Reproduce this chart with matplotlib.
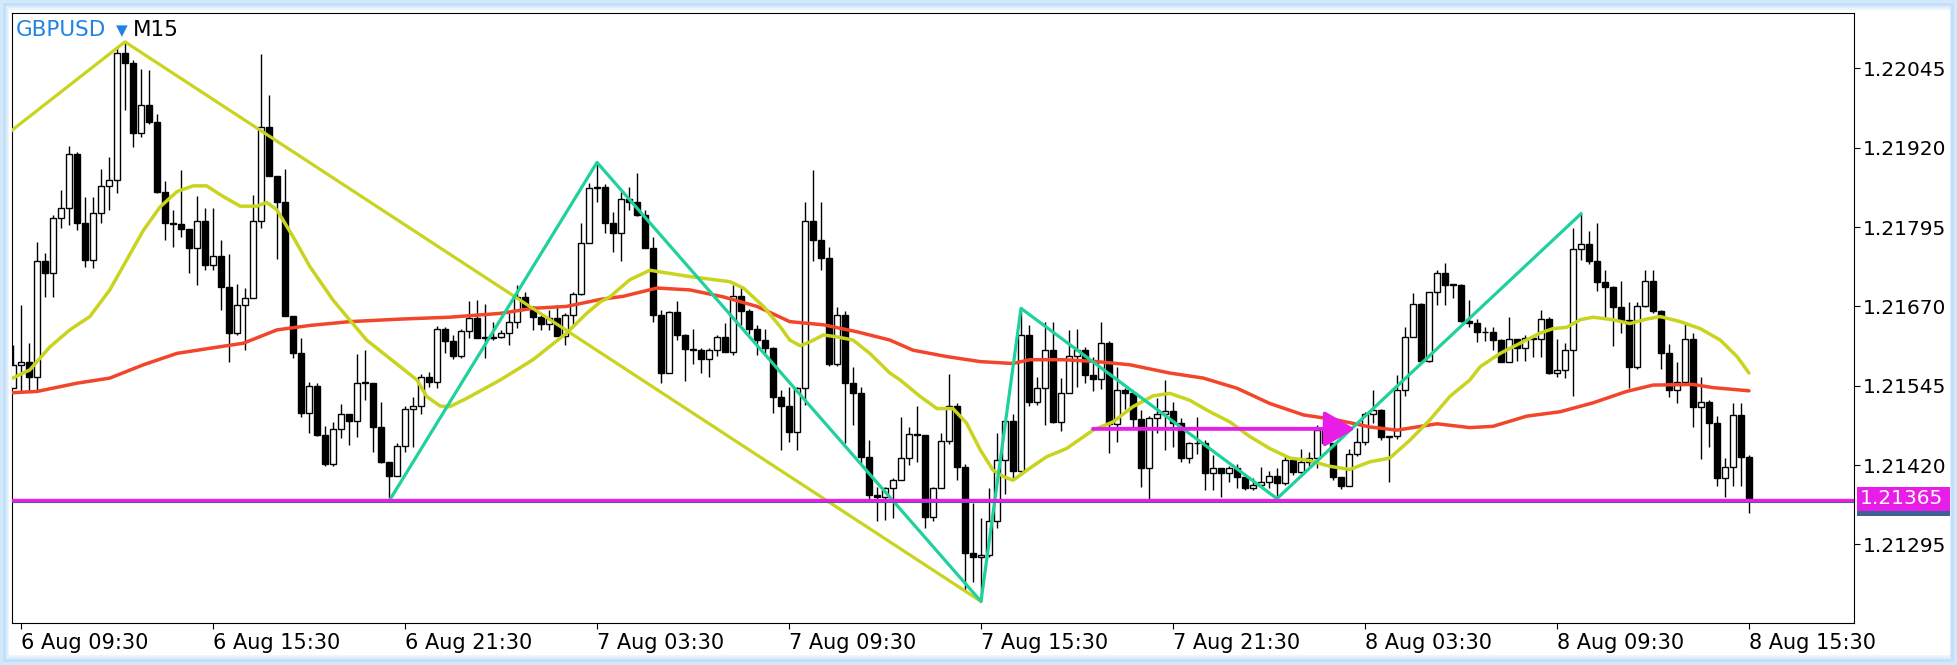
import numpy as np
import pandas as pd
import matplotlib
matplotlib.use("Agg")
import matplotlib.pyplot as plt
from matplotlib.patches import Rectangle
from matplotlib.patches import ArrowStyle

# ---------------- data ----------------
symbol = "GBPUSD"
timeframe = "M15"
start_time = "2020-08-06 09:15"   # first visible candle
first_open = 1.21541

closes = [
    1.21578, 1.21583, 1.21559, 1.21741, 1.21722, 1.21810, 1.21825, 1.21910, 1.21802, 1.21743,
    1.21817, 1.21860, 1.21869, 1.22070, 1.22054, 1.21943, 1.21987, 1.21961, 1.21850, 1.21801,
    1.21800, 1.21792, 1.21762, 1.21804, 1.21736, 1.21750, 1.21700, 1.21628, 1.21672, 1.21684,
    1.21804, 1.21953, 1.21875, 1.21834, 1.21655, 1.21597, 1.21502, 1.21545, 1.21467, 1.21421,
    1.21476, 1.21501, 1.21490, 1.21550, 1.21550, 1.21480, 1.21425, 1.21403, 1.21450, 1.21509,
    1.21513, 1.21558, 1.21551, 1.21634, 1.21616, 1.21592, 1.21632, 1.21651, 1.21621, 1.21620,
    1.21622, 1.21628, 1.21646, 1.21685, 1.21669, 1.21654, 1.21642, 1.21651, 1.21623, 1.21656,
    1.21689, 1.21770, 1.21856, 1.21859, 1.21802, 1.21785, 1.21840, 1.21834, 1.21814, 1.21762,
    1.21656, 1.21565, 1.21661, 1.21625, 1.21603, 1.21601, 1.21587, 1.21602, 1.21622, 1.21598,
    1.21686, 1.21663, 1.21635, 1.21617, 1.21604, 1.21528, 1.21513, 1.21472, 1.21542, 1.21804,
    1.21775, 1.21747, 1.21580, 1.21656, 1.21550, 1.21534, 1.21432, 1.21373, 1.21370, 1.21383,
    1.21397, 1.21431, 1.21469, 1.21468, 1.21338, 1.21383, 1.21458, 1.21513, 1.21417, 1.21281,
    1.21275, 1.21278, 1.21331, 1.21428, 1.21490, 1.21411, 1.21625, 1.21520, 1.21541, 1.21602,
    1.21488, 1.21534, 1.21592, 1.21602, 1.21562, 1.21555, 1.21613, 1.21485, 1.21539, 1.21534,
    1.21492, 1.21416, 1.21494, 1.21500, 1.21505, 1.21486, 1.21431, 1.21454, 1.21454, 1.21407,
    1.21415, 1.21408, 1.21416, 1.21401, 1.21383, 1.21388, 1.21394, 1.21402, 1.21391, 1.21428,
    1.21409, 1.21425, 1.21431, 1.21475, 1.21454, 1.21401, 1.21387, 1.21438, 1.21457, 1.21501,
    1.21507, 1.21464, 1.21465, 1.21539, 1.21622, 1.21674, 1.21584, 1.21692, 1.21723, 1.21704,
    1.21704, 1.21647, 1.21644, 1.21629, 1.21629, 1.21617, 1.21583, 1.21618, 1.21604, 1.21620,
    1.21618, 1.21650, 1.21565, 1.21569, 1.21602, 1.21760, 1.21768, 1.21741, 1.21709, 1.21700,
    1.21669, 1.21649, 1.21574, 1.21671, 1.21710, 1.21662, 1.21597, 1.21539, 1.21551, 1.21618,
    1.21512, 1.21520, 1.21487, 1.21399, 1.21417, 1.21499, 1.21433, 1.21365,
]

highs = [
    1.21609, 1.21672, 1.21612, 1.21772, 1.21754, 1.21814, 1.21853, 1.21923, 1.21913, 1.21843,
    1.21843, 1.21886, 1.21905, 1.22077, 1.22087, 1.22059, 1.22044, 1.22043, 1.21974, 1.21867,
    1.21822, 1.21885, 1.21792, 1.21844, 1.21825, 1.21825, 1.21774, 1.21752, 1.21706, 1.21699,
    1.21846, 1.22068, 1.22003, 1.21875, 1.21886, 1.21653, 1.21620, 1.21551, 1.21549, 1.21482,
    1.21488, 1.21516, 1.21501, 1.21595, 1.21601, 1.21545, 1.21520, 1.21425, 1.21454, 1.21513,
    1.21528, 1.21564, 1.21567, 1.21639, 1.21638, 1.21625, 1.21634, 1.21679, 1.21680, 1.21674,
    1.21646, 1.21633, 1.21659, 1.21704, 1.21693, 1.21670, 1.21656, 1.21664, 1.21672, 1.21659,
    1.21692, 1.21801, 1.21864, 1.21897, 1.21863, 1.21819, 1.21851, 1.21859, 1.21880, 1.21822,
    1.21780, 1.21664, 1.21662, 1.21679, 1.21626, 1.21634, 1.21605, 1.21605, 1.21625, 1.21644,
    1.21704, 1.21701, 1.21666, 1.21641, 1.21635, 1.21606, 1.21538, 1.21543, 1.21543, 1.21835,
    1.21885, 1.21835, 1.21763, 1.21669, 1.21663, 1.21574, 1.21543, 1.21459, 1.21386, 1.21386,
    1.21399, 1.21496, 1.21480, 1.21513, 1.21468, 1.21385, 1.21471, 1.21564, 1.21518, 1.21421,
    1.21360, 1.21336, 1.21383, 1.21470, 1.21492, 1.21500, 1.21667, 1.21641, 1.21559, 1.21646,
    1.21646, 1.21557, 1.21633, 1.21634, 1.21606, 1.21591, 1.21646, 1.21615, 1.21574, 1.21541,
    1.21534, 1.21507, 1.21497, 1.21525, 1.21554, 1.21520, 1.21494, 1.21456, 1.21496, 1.21459,
    1.21436, 1.21415, 1.21418, 1.21422, 1.21403, 1.21400, 1.21417, 1.21410, 1.21415, 1.21436,
    1.21428, 1.21446, 1.21441, 1.21483, 1.21488, 1.21444, 1.21401, 1.21446, 1.21478, 1.21504,
    1.21538, 1.21508, 1.21466, 1.21562, 1.21638, 1.21691, 1.21676, 1.21693, 1.21728, 1.21738,
    1.21706, 1.21706, 1.21680, 1.21650, 1.21637, 1.21637, 1.21618, 1.21653, 1.21618, 1.21625,
    1.21623, 1.21664, 1.21653, 1.21618, 1.21612, 1.21793, 1.21816, 1.21789, 1.21801, 1.21728,
    1.21702, 1.21710, 1.21677, 1.21677, 1.21727, 1.21727, 1.21664, 1.21611, 1.21583, 1.21642,
    1.21628, 1.21559, 1.21523, 1.21497, 1.21431, 1.21518, 1.21517, 1.21436,
]

lows = [
    1.21541, 1.21536, 1.21536, 1.21538, 1.21685, 1.21685, 1.21793, 1.21798, 1.21790, 1.21732,
    1.21730, 1.21801, 1.21822, 1.21849, 1.21980, 1.21921, 1.21937, 1.21958, 1.21849, 1.21774,
    1.21764, 1.21779, 1.21722, 1.21704, 1.21728, 1.21728, 1.21665, 1.21583, 1.21625, 1.21601,
    1.21683, 1.21793, 1.21875, 1.21744, 1.21655, 1.21588, 1.21496, 1.21470, 1.21465, 1.21418,
    1.21418, 1.21462, 1.21452, 1.21464, 1.21522, 1.21441, 1.21423, 1.21363, 1.21403, 1.21441,
    1.21449, 1.21501, 1.21543, 1.21542, 1.21596, 1.21587, 1.21589, 1.21621, 1.21620, 1.21588,
    1.21617, 1.21621, 1.21609, 1.21636, 1.21667, 1.21633, 1.21633, 1.21633, 1.21623, 1.21609,
    1.21638, 1.21688, 1.21770, 1.21835, 1.21785, 1.21755, 1.21742, 1.21822, 1.21812, 1.21762,
    1.21646, 1.21550, 1.21565, 1.21617, 1.21553, 1.21580, 1.21565, 1.21558, 1.21592, 1.21598,
    1.21593, 1.21641, 1.21627, 1.21593, 1.21596, 1.21502, 1.21444, 1.21457, 1.21444, 1.21515,
    1.21741, 1.21728, 1.21576, 1.21576, 1.21454, 1.21483, 1.21423, 1.21361, 1.21331, 1.21333,
    1.21336, 1.21397, 1.21420, 1.21425, 1.21320, 1.21331, 1.21383, 1.21453, 1.21396, 1.21223,
    1.21236, 1.21205, 1.21275, 1.21320, 1.21375, 1.21400, 1.21405, 1.21513, 1.21515, 1.21483,
    1.21486, 1.21474, 1.21534, 1.21543, 1.21549, 1.21536, 1.21540, 1.21439, 1.21457, 1.21509,
    1.21480, 1.21386, 1.21362, 1.21470, 1.21443, 1.21449, 1.21425, 1.21423, 1.21438, 1.21381,
    1.21381, 1.21370, 1.21394, 1.21383, 1.21380, 1.21380, 1.21385, 1.21383, 1.21367, 1.21389,
    1.21405, 1.21407, 1.21418, 1.21415, 1.21452, 1.21397, 1.21382, 1.21387, 1.21435, 1.21452,
    1.21486, 1.21460, 1.21394, 1.21461, 1.21529, 1.21622, 1.21584, 1.21582, 1.21672, 1.21672,
    1.21684, 1.21646, 1.21638, 1.21614, 1.21616, 1.21602, 1.21582, 1.21582, 1.21584, 1.21584,
    1.21591, 1.21591, 1.21564, 1.21559, 1.21557, 1.21529, 1.21743, 1.21737, 1.21695, 1.21651,
    1.21607, 1.21628, 1.21541, 1.21572, 1.21669, 1.21660, 1.21572, 1.21528, 1.21517, 1.21549,
    1.21480, 1.21429, 1.21448, 1.21387, 1.21369, 1.21387, 1.21387, 1.21345,
]

tick_labels = ["6 Aug 09:30", "6 Aug 15:30", "6 Aug 21:30", "7 Aug 03:30", "7 Aug 09:30",
               "7 Aug 15:30", "7 Aug 21:30", "8 Aug 03:30", "8 Aug 09:30", "8 Aug 15:30"]
price_ticks = [1.21295, 1.21420, 1.21545, 1.21670, 1.21795, 1.21920, 1.22045]

# indicator lines, bar numbers counted from the 6 Aug 09:30 candle
ma_fast_bar = [-1.04, 1.1, 3.6, 6.1, 8.6, 11.1, 13.2, 15.3, 17.4, 19.5, 21.5, 23.2, 25.3, 27.4,
               29.5, 30.7, 32.0, 34.0, 36.1, 39.0, 43.2, 47.4, 49.5, 50.7, 52.4, 53.6, 55.7,
               59.9, 64.0, 68.2, 70.7, 72.4, 73.6, 76.1, 78.6, 81.1, 83.6, 86.1, 88.6, 90.3,
               92.8, 94.9, 96.1, 97.4, 98.6, 100.3, 102.0, 104.0, 106.1, 108.6, 109.9, 112.4,
               114.5, 116.5, 118.2, 119.9, 121.5, 122.8, 124.0, 126.1, 128.2, 130.7, 134.0,
               136.5, 139.0, 141.5, 143.6, 146.1, 148.6, 151.1, 153.6, 156.1, 158.6, 161.1,
               163.6, 166.1, 168.6, 171.1, 173.6, 176.1, 178.6, 181.1, 182.4, 184.9, 187.4,
               189.9, 191.5, 193.2, 194.9, 196.5, 199.0, 201.1, 203.2, 204.9, 207.4, 209.9,
               212.4, 214.5, 216.0]
ma_fast_val = [1.21557, 1.21570, 1.21606, 1.21633, 1.21654, 1.21696, 1.21743, 1.21790, 1.21827,
               1.21851, 1.21860, 1.21860, 1.21843, 1.21828, 1.21828, 1.21834, 1.21822, 1.21780,
               1.21733, 1.21680, 1.21617, 1.21575, 1.21554, 1.21528, 1.21513, 1.21512, 1.21525,
               1.21554, 1.21586, 1.21628, 1.21659, 1.21677, 1.21685, 1.21712, 1.21727, 1.21722,
               1.21717, 1.21713, 1.21709, 1.21699, 1.21670, 1.21638, 1.21617, 1.21608, 1.21614,
               1.21625, 1.21622, 1.21617, 1.21596, 1.21565, 1.21554, 1.21528, 1.21509, 1.21509,
               1.21486, 1.21444, 1.21412, 1.21402, 1.21396, 1.21415, 1.21433, 1.21446, 1.21475,
               1.21488, 1.21512, 1.21529, 1.21533, 1.21522, 1.21504, 1.21488, 1.21465, 1.21446,
               1.21431, 1.21427, 1.21418, 1.21413, 1.21425, 1.21431, 1.21459, 1.21491, 1.21528,
               1.21554, 1.21575, 1.21596, 1.21612, 1.21628, 1.21635, 1.21637, 1.21649, 1.21653,
               1.21649, 1.21643, 1.21650, 1.21654, 1.21646, 1.21635, 1.21617, 1.21591, 1.21565]

ma_slow_bar = [-1.0, 2.0, 7.0, 11.1, 15.3, 19.5, 23.6, 27.8, 32.0, 36.1, 41.1, 47.4, 53.6, 59.9,
               64.0, 68.2, 72.4, 75.3, 79.5, 83.6, 87.8, 92.0, 96.1, 100.3, 104.5, 108.6, 111.5,
               115.7, 119.9, 124.0, 126.1, 130.3, 134.5, 138.6, 143.6, 147.8, 152.0, 156.1,
               160.3, 164.5, 168.6, 172.0, 177.0, 181.1, 184.0, 188.2, 192.4, 196.5, 200.7,
               204.0, 209.0, 211.5, 216.0]
ma_slow_val = [1.21534, 1.21536, 1.21549, 1.21557, 1.21578, 1.21596, 1.21604, 1.21612, 1.21633,
               1.21640, 1.21646, 1.21650, 1.21653, 1.21659, 1.21667, 1.21670, 1.21681, 1.21686,
               1.21699, 1.21696, 1.21685, 1.21670, 1.21646, 1.21641, 1.21630, 1.21617, 1.21601,
               1.21591, 1.21583, 1.21580, 1.21586, 1.21586, 1.21583, 1.21578, 1.21565, 1.21557,
               1.21541, 1.21517, 1.21499, 1.21491, 1.21480, 1.21475, 1.21485, 1.21479, 1.21481,
               1.21497, 1.21504, 1.21518, 1.21536, 1.21546, 1.21547, 1.21542, 1.21537]

zigzag_big_bar = [-1.1, 13, 120]
zigzag_big_val = [1.21948, 1.22087, 1.21205]
zigzag_small_bar = [46, 72, 120, 125, 157, 195]
zigzag_small_val = [1.21363, 1.21897, 1.21205, 1.21667, 1.21367, 1.21816]

level_price = 1.21365
bid_price = 1.21361
arrow_bar = [134.0, 166.75]
arrow_price = 1.21477

# ---------------- figure ----------------
W, H = 1957, 665
fig = plt.figure(figsize=(W / 100, H / 100), dpi=100)
fig.patch.set_facecolor("#d3e8fa")

def fx(px):
    return px / W

def fy(py):
    return 1 - py / H

# window glow + white panel
for pad, col in [(3, "#c4e0f8"), (6, "#dcedfb"), (8, "#eef6fd")]:
    fig.add_artist(Rectangle((fx(pad), fy(H - pad)), fx(W - 2 * pad), 1 - 2 * pad / H,
                             transform=fig.transFigure, facecolor=col, edgecolor="none", zorder=0))
fig.add_artist(Rectangle((fx(9), fy(655)), fx(1950 - 9), (655 - 10) / H,
                         transform=fig.transFigure, facecolor="white", edgecolor="none", zorder=0))

ax_l, ax_r, ax_t, ax_b = 12.3, 1854.0, 13.3, 623.0
ax = fig.add_axes([fx(ax_l), fy(ax_b), fx(ax_r - ax_l), (ax_b - ax_t) / H])
ax.set_facecolor("white")
ax.set_zorder(2)

n = len(closes)
pos = np.arange(n) - 1
o = np.array([first_open] + closes[:-1])
c = np.array(closes)
h = np.maximum(np.array(highs), np.maximum(o, c))
l = np.minimum(np.array(lows), np.minimum(o, c))

ax.vlines(pos, l, h, color="black", linewidth=1.0, zorder=2)
body_w = 0.64
min_h = 0.000012
up = c >= o
bottoms = np.minimum(o, c)
heights = np.maximum(np.abs(c - o), min_h)
ax.bar(pos[up], heights[up], bottom=bottoms[up], width=body_w, color="white",
       edgecolor="black", linewidth=1.0, zorder=3)
ax.bar(pos[~up], heights[~up], bottom=bottoms[~up], width=body_w, color="black",
       edgecolor="black", linewidth=1.0, zorder=3)

yellow = "#c8d41e"
ax.plot(ma_slow_bar, ma_slow_val, color="#f2452a", linewidth=2.5, zorder=4,
        solid_capstyle="round")
ax.plot(ma_fast_bar, ma_fast_val, color=yellow, linewidth=2.5, zorder=4,
        solid_capstyle="round")
ax.plot(zigzag_big_bar, zigzag_big_val, color=yellow, linewidth=2.3, zorder=5)
ax.plot(zigzag_small_bar, zigzag_small_val, color="#1fd19c", linewidth=2.3, zorder=5)

magenta = "#e81ee8"
ax.axhline(bid_price, color="#4b6186", linewidth=0.8, zorder=5)
ax.axhline(level_price, color=magenta, linewidth=2.4, zorder=6)
ax.annotate("", xy=(arrow_bar[1], arrow_price), xytext=(arrow_bar[0], arrow_price),
            arrowprops=dict(arrowstyle=ArrowStyle("-|>", head_length=0.95, head_width=0.55),
                            mutation_scale=20, color=magenta, lw=2.8,
                            shrinkA=0, shrinkB=0), zorder=6)

ax.set_xlim(-1.0875, 229.125)
ax.set_ylim(1.21171, 1.22132)

for s in ax.spines.values():
    s.set_linewidth(0.8)
    s.set_color("black")

lab_font = "DejaVu Sans"

# x ticks from candle times
times = pd.date_range(start_time, periods=n, freq="15min")
fmt = [f"{t.day} {t.strftime('%b %H:%M')}" for t in times]
xt = [pos[fmt.index(lab)] for lab in tick_labels]
ax.set_xticks(xt)
ax.set_xticklabels(tick_labels, ha="left", fontsize=15, family=lab_font)
ax.tick_params(axis="x", direction="out", length=4, width=0.8, pad=3)

ax.yaxis.tick_right()
ax.set_yticks(price_ticks)
ax.set_yticklabels([f"{v:.5f}" for v in price_ticks], fontsize=14.5, family=lab_font)
ax.tick_params(axis="y", direction="out", length=4, width=0.8, pad=2)

# current price label on the price scale
fig.add_artist(Rectangle((fx(1856.5), fy(516)), fx(1949.5 - 1856.5), 25 / H,
                         transform=fig.transFigure, facecolor="#3f6294", edgecolor="none", zorder=5))
fig.add_artist(Rectangle((fx(1856.5), fy(511)), fx(1949.5 - 1856.5), 24.5 / H,
                         transform=fig.transFigure, facecolor=magenta, edgecolor="none", zorder=6))
fig.text(fx(1860), fy(499), f"{level_price:.5f}", color="white", fontsize=14.5,
         family=lab_font, va="center", ha="left", zorder=7)

# symbol caption
fig.text(fx(16), fy(30), symbol, color="#1e84e4", fontsize=15.5, family=lab_font,
         va="center", ha="left", zorder=7)
fig.text(fx(116), fy(31), "\u25BC", color="#1e84e4", fontsize=11, family="DejaVu Sans",
         va="center", ha="left", zorder=7)
fig.text(fx(133), fy(30), timeframe, color="black", fontsize=15.5, family=lab_font,
         va="center", ha="left", zorder=7)

fig.savefig("out.png", dpi=100, facecolor=fig.get_facecolor())
